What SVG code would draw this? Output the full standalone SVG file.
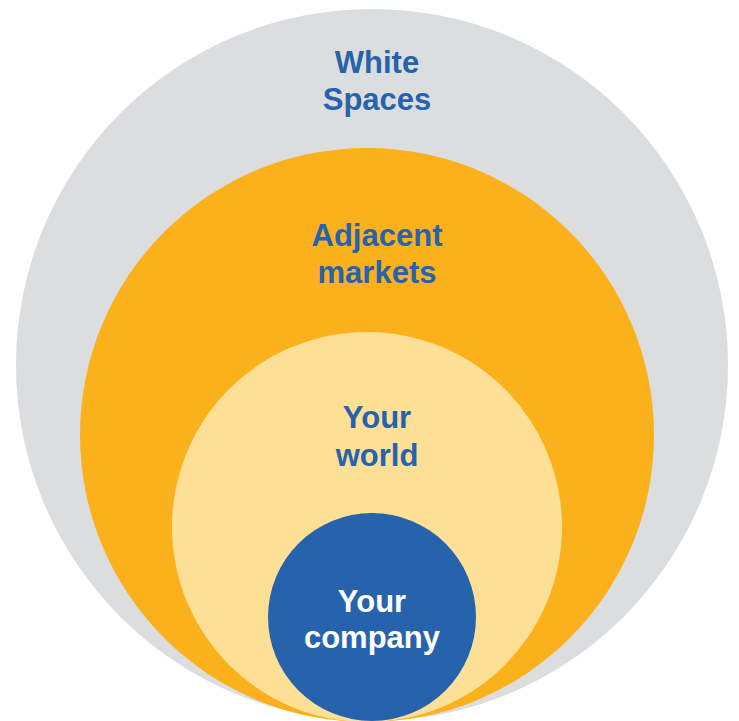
<svg xmlns="http://www.w3.org/2000/svg" width="739" height="721" viewBox="0 0 739 721">
<style>
.t{font-family:"Liberation Sans",Arial,sans-serif;font-weight:bold;font-size:31px;text-anchor:middle;fill:#2762AC}
.w{fill:#FFFFFF}
</style>
<rect width="739" height="721" fill="#FFFFFF"/>
<g id="white-spaces">
<circle cx="372" cy="365" r="356" fill="#DCDDDF"/>
<text class="t" x="377" y="73">White</text>
<text class="t" x="377" y="110">Spaces</text>
</g>
<g id="adjacent-markets">
<circle cx="367" cy="435" r="287" fill="#FBB11B"/>
<text class="t" x="377" y="246">Adjacent</text>
<text class="t" x="377" y="283">markets</text>
</g>
<g id="your-world">
<circle cx="367" cy="527" r="195" fill="#FDDF95"/>
<text class="t" x="377" y="428">Your</text>
<text class="t" x="377" y="466">world</text>
</g>
<g id="your-company">
<circle cx="372" cy="617" r="104" fill="#2762AC"/>
<text class="t w" x="372" y="612">Your</text>
<text class="t w" x="372" y="648">company</text>
</g>
<g id="connectors"/>
</svg>
